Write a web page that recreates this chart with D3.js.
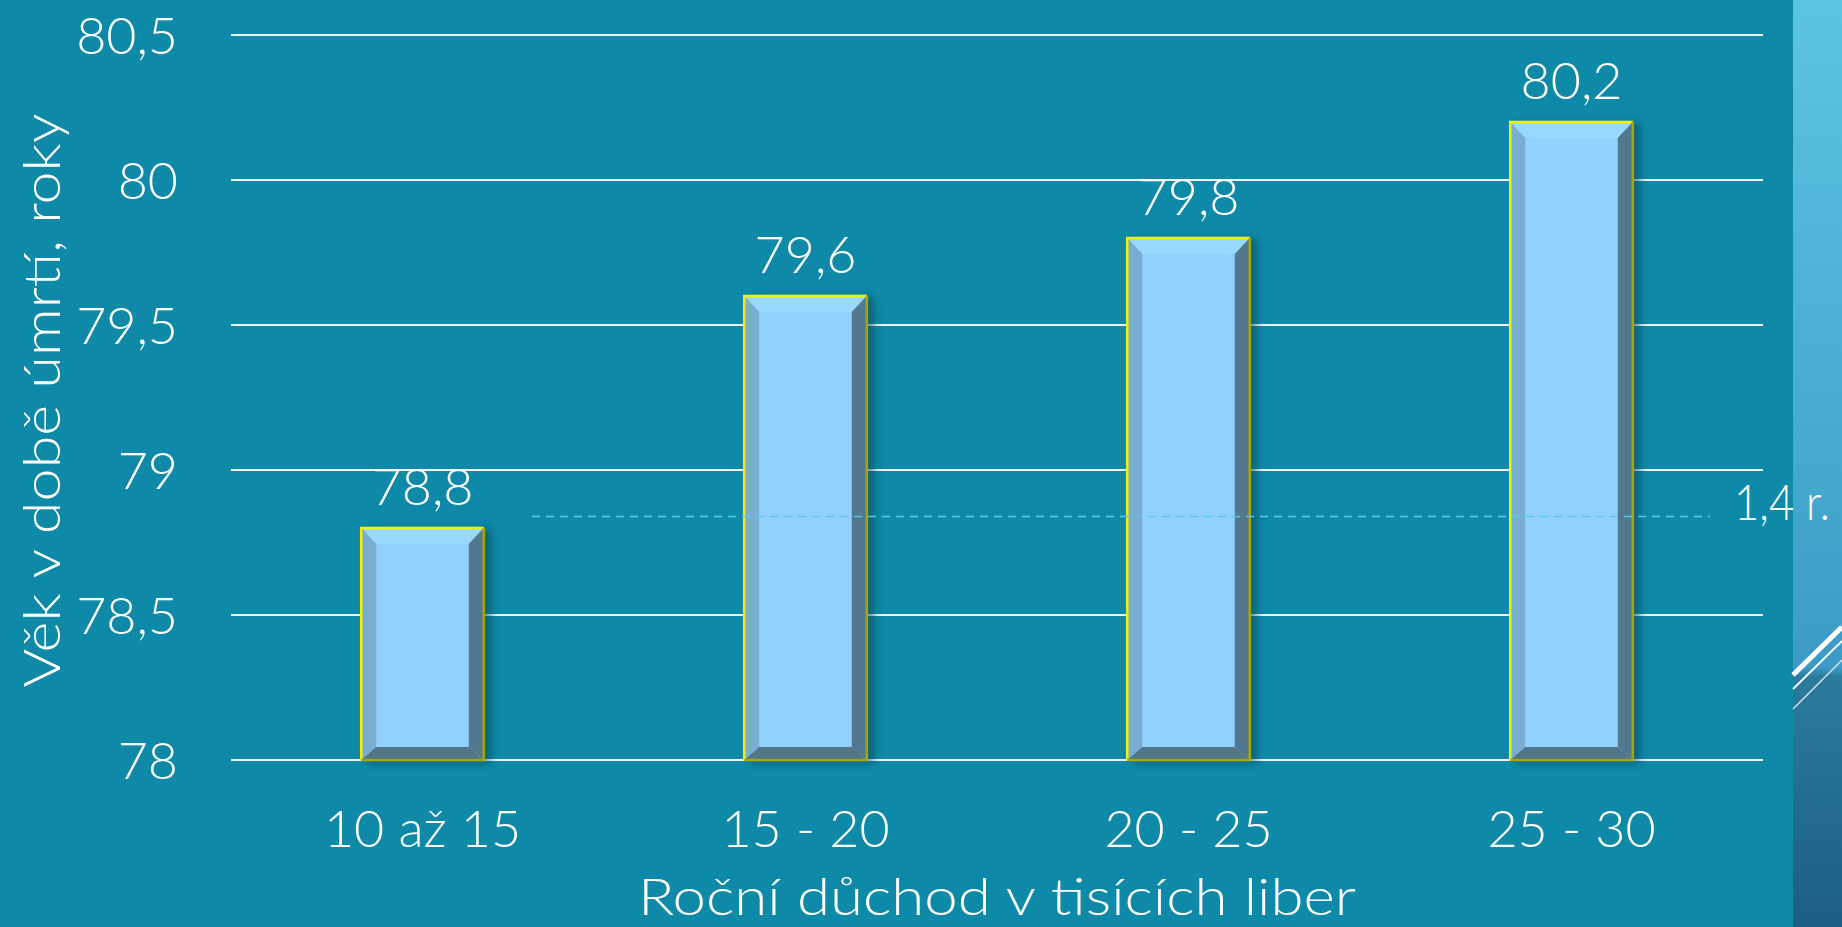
<!DOCTYPE html>
<html>
<head>
<meta charset="utf-8">
<script src="https://cdn.jsdelivr.net/npm/d3@7"></script>
<style>
  html, body { margin: 0; padding: 0; background: #0e8aa8; overflow: hidden; }
  text { font-family: 'Lato', 'Open Sans', sans-serif; font-weight: 300; fill: #fff; }
</style>
</head>
<body>
<div id="canvas"></div>
<script>
const categories = ['10 až 15', '15 - 20', '20 - 25', '25 - 30']
const values = [78.8, 79.6, 79.8, 80.2]
const valueLabels = ['78,8', '79,6', '79,8', '80,2']
const yTicks = [78, 78.5, 79, 79.5, 80, 80.5]
const yTickLabels = ['78', '78,5', '79', '79,5', '80', '80,5']
const refLine = 78.84
const refLabel = '1,4 r.'
const xTitle = 'Roční důchod v tisících liber'
const yTitle = 'Věk v době úmrtí, roky'

const width = 1842
const height = 927
const margin = { top: 35, bottom: 167, left: 231, right: 79 }

const svg = d3.select('#canvas')
  .append('svg')
    .attr('width', width)
    .attr('height', height)

const defs = svg.append('defs')

// right side panel gradient
const grad = defs.append('linearGradient')
  .attr('id', 'panel')
  .attr('x1', 0).attr('y1', 0).attr('x2', 0).attr('y2', 1)
grad.append('stop').attr('offset', '0%').attr('stop-color', '#5cc4e3')
grad.append('stop').attr('offset', '72%').attr('stop-color', '#3c9bc6')
grad.append('stop').attr('offset', '73%').attr('stop-color', '#2b7b9c')
grad.append('stop').attr('offset', '100%').attr('stop-color', '#1c5d86')

const shadow = defs.append('filter')
  .attr('id', 'shadow')
  .attr('x', '-20%').attr('y', '-10%').attr('width', '150%').attr('height', '130%')
shadow.append('feDropShadow')
  .attr('dx', 6).attr('dy', 2)
  .attr('stdDeviation', 4)
  .attr('flood-color', '#053c4c')
  .attr('flood-opacity', 0.55)

svg.append('rect')
  .attr('x', 1793).attr('y', 0)
  .attr('width', width - 1793).attr('height', height)
  .attr('fill', 'url(#panel)')

const deco = svg.append('g')
deco.append('line').attr('x1', 1793).attr('y1', 675).attr('x2', 1842).attr('y2', 627)
  .attr('stroke', '#fff').attr('stroke-width', 5)
deco.append('line').attr('x1', 1793).attr('y1', 689).attr('x2', 1842).attr('y2', 641)
  .attr('stroke', '#fff').attr('stroke-width', 1.8)
deco.append('line').attr('x1', 1793).attr('y1', 709).attr('x2', 1842).attr('y2', 660)
  .attr('stroke', '#d8e4ea').attr('stroke-width', 1.5)

const x = d3.scaleBand()
  .domain(categories)
  .range([margin.left, width - margin.right])
  .paddingInner(0.68)
  .paddingOuter(0.34)

const y = d3.scaleLinear()
  .domain([78, 80.5])
  .range([height - margin.bottom, margin.top])

// gridlines
svg.append('g')
  .selectAll('line')
  .data(yTicks)
  .join('line')
    .attr('x1', margin.left)
    .attr('x2', width - margin.right)
    .attr('y1', d => y(d))
    .attr('y2', d => y(d))
    .attr('stroke', '#eef4f6')
    .attr('stroke-width', 2)

// y tick labels
svg.append('g')
  .selectAll('text')
  .data(yTicks)
  .join('text')
    .attr('x', 178)
    .attr('y', d => y(d))
    .attr('dy', '0.36em')
    .attr('text-anchor', 'end')
    .attr('font-size', '52px')
    .text((d, i) => yTickLabels[i])

// bars with bevel
const b = 15
const bars = svg.append('g')
  .selectAll('g')
  .data(values)
  .join('g')
    .attr('filter', 'url(#shadow)')

bars.each(function(d, i) {
  const g = d3.select(this)
  const x0 = x(categories[i])
  const x1 = x0 + x.bandwidth()
  const y0 = y(d)
  const y1 = y(78)
  const poly = (pts, fill) => g.append('polygon')
    .attr('points', pts.map(p => p.join(',')).join(' '))
    .attr('fill', fill)
  g.append('rect')
    .attr('x', x0).attr('y', y0)
    .attr('width', x1 - x0).attr('height', y1 - y0)
    .attr('fill', '#91d1fb')
  poly([[x0, y0], [x1, y0], [x1 - b, y0 + b + 1], [x0 + b, y0 + b + 1]], '#98d9fd')
  poly([[x0, y0], [x0 + b, y0 + b + 1], [x0 + b, y1 - b + 2], [x0, y1]], '#79aed2')
  poly([[x1, y0], [x1, y1], [x1 - b, y1 - b + 2], [x1 - b, y0 + b + 1]], '#51788f')
  poly([[x0, y1], [x0 + b, y1 - b + 2], [x1 - b, y1 - b + 2], [x1, y1]], '#52748a')
  // border
  g.append('path')
    .attr('d', `M${x0},${y1} V${y0} H${x1}`)
    .attr('fill', 'none').attr('stroke', '#f2f200').attr('stroke-width', 2.5)
  g.append('path')
    .attr('d', `M${x1},${y0} V${y1} H${x0}`)
    .attr('fill', 'none').attr('stroke', '#a8a400').attr('stroke-width', 2.5)
})

// value labels
svg.append('g')
  .selectAll('text')
  .data(values)
  .join('text')
    .attr('x', (d, i) => x(categories[i]) + x.bandwidth() / 2)
    .attr('y', d => y(d) - 23)
    .attr('text-anchor', 'middle')
    .attr('font-size', '52px')
    .text((d, i) => valueLabels[i])

// dashed reference line
svg.append('line')
  .attr('x1', 532).attr('x2', 1710)
  .attr('y1', y(refLine)).attr('y2', y(refLine))
  .attr('stroke', '#5cc6e6')
  .attr('stroke-width', 1.5)
  .attr('stroke-dasharray', '8 6')

svg.append('text')
  .attr('x', 1734)
  .attr('y', y(refLine) + 4)
  .attr('font-size', '50px')
  .attr('textLength', 96)
  .attr('lengthAdjust', 'spacingAndGlyphs')
  .text(refLabel)

// x tick labels
svg.append('g')
  .selectAll('text')
  .data(categories)
  .join('text')
    .attr('x', d => x(d) + x.bandwidth() / 2)
    .attr('y', 847)
    .attr('text-anchor', 'middle')
    .attr('font-size', '52px')
    .text(d => d)

svg.append('text')
  .attr('x', (margin.left + width - margin.right) / 2)
  .attr('y', 915)
  .attr('text-anchor', 'middle')
  .attr('font-size', '52px')
  .attr('textLength', 718)
  .attr('lengthAdjust', 'spacingAndGlyphs')
  .text(xTitle)

svg.append('text')
  .attr('transform', `translate(60, ${y(79.24)}) rotate(-90)`)
  .attr('text-anchor', 'middle')
  .attr('font-size', '52px')
  .attr('textLength', 574)
  .attr('lengthAdjust', 'spacingAndGlyphs')
  .text(yTitle)
</script>
</body>
</html>
